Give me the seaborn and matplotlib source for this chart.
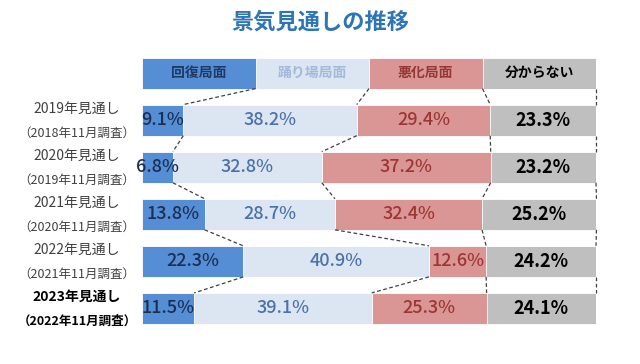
import pandas as pd
import matplotlib.pyplot as plt
import seaborn as sns

# データ（景気見通し、%）
rows = ['2019年見通し', '2020年見通し', '2021年見通し', '2022年見通し', '2023年見通し']
surveys = ['（2018年11月調査）', '（2019年11月調査）', '（2020年11月調査）',
           '（2021年11月調査）', '（2022年11月調査）']
categories = ['回復局面', '踊り場局面', '悪化局面', '分からない']
kaifuku = [9.1, 6.8, 13.8, 22.3, 11.5]
odoriba = [38.2, 32.8, 28.7, 40.9, 39.1]
akka = [29.4, 37.2, 32.4, 12.6, 25.3]
wakaranai = [23.3, 23.2, 25.2, 24.2, 24.1]
header_values = [25, 25, 25, 25]

colors = ['#558ED5', '#DCE6F2', '#DA9694', '#BFBFBF']
text_colors = ['#1B2F52', '#4A72A8', '#9C3634', '#000000']
header_text_colors = ['#1F3864', '#A3B8DA', '#953735', '#000000']

sns.set_style('white')
plt.rcParams['font.family'] = ['Noto Sans CJK JP', 'DejaVu Sans']

# 見出し行 + 各年の行
ylabels = ['header'] + rows
df = pd.DataFrame({
    'row': ylabels,
    'c1': [header_values[0]] + kaifuku,
    'c2': [header_values[1]] + odoriba,
    'c3': [header_values[2]] + akka,
    'c4': [header_values[3]] + wakaranai,
})
segs = ['c1', 'c2', 'c3', 'c4']
cum = df[segs].cumsum(axis=1)

fig = plt.figure(figsize=(6.4, 3.64), dpi=100)
ax = fig.add_axes([142 / 640, 1 - 332 / 364, 454 / 640, 282.5 / 364])

bar_h = 0.66
# 累積値を後ろから重ねて積み上げ棒にする
for i in reversed(range(4)):
    sns.barplot(x=cum[segs[i]], y=df['row'], orient='h', color=colors[i],
                saturation=1, width=bar_h, linewidth=0.6, edgecolor='white', ax=ax)

ax.set_xlim(0, 100)
ax.set_ylim(5.5, -0.5)
ax.set_xlabel('')
ax.set_ylabel('')
ax.set_xticks([])
ax.set_yticks([])
sns.despine(ax=ax, left=True, bottom=True)

# 数値ラベル
for r in range(len(df)):
    left = 0
    for i, s in enumerate(segs):
        v = df.loc[r, s]
        center = left + v / 2
        left += v
        if r == 0:
            ax.text(center, r, categories[i], ha='center', va='center', fontsize=10,
                    fontweight='bold', color=header_text_colors[i])
        else:
            ax.text(center, r, f'{v:.1f}%', ha='center', va='center', fontsize=13,
                    fontweight='bold' if i == 3 else 'medium', color=text_colors[i])

# 破線でつなぐ
for r in range(len(df) - 1):
    for i, s in enumerate(segs):
        x0 = cum.loc[r, s]
        x1 = cum.loc[r + 1, s]
        ax.plot([x0, x1], [r + bar_h / 2, r + 1 - bar_h / 2], ls=(0, (3, 2)),
                color='#404040', lw=0.9, clip_on=False)

# 行ラベル
trans = ax.get_yaxis_transform()
for k, (a, b) in enumerate(zip(rows, surveys)):
    y = k + 1
    last = k == len(rows) - 1
    ax.text(-0.143, y - 0.24, a, transform=trans, ha='center', va='center', fontsize=10,
            fontweight='bold' if last else 'normal', color='#000000' if last else '#404040')
    ax.text(-0.143, y + 0.27, b, transform=trans, ha='center', va='center', fontsize=9,
            fontweight='bold' if last else 'normal', color='#000000' if last else '#404040')

fig.text(320 / 640, 1 - 22 / 364, '景気見通しの推移', ha='center', va='center',
         fontsize=16, fontweight='bold', color='#2E75B6')

fig.savefig('out.png', dpi=100, facecolor='white')
